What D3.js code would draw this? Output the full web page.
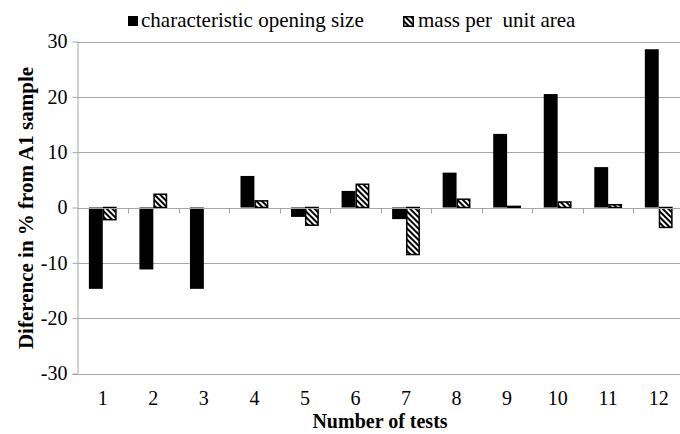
<!DOCTYPE html>
<html>
<head>
<meta charset="utf-8">
<script src="https://cdn.jsdelivr.net/npm/d3@7"></script>
<style>
  body { margin: 0; background: #fff; }
  text { font-family: "Liberation Serif", "Times New Roman", serif; fill: #000; }
</style>
</head>
<body>
<div id="chart"></div>
<script>
//////////////////// data ////////////////////
const tests = ["1", "2", "3", "4", "5", "6", "7", "8", "9", "10", "11", "12"];
const openingSize = [-14.7, -11.2, -14.7, 5.7, -1.7, 3.0, -2.1, 6.3, 13.3, 20.5, 7.3, 28.6];
const massPerArea = [-2.2, 2.4, 0, 1.2, -3.2, 4.2, -8.5, 1.5, 0.2, 1.0, 0.5, -3.6];
const yTicks = [30, 20, 10, 0, -10, -20, -30];
const seriesNames = ["characteristic opening size", "mass per  unit area"];

//////////////////// setup ////////////////////
const W = 680, H = 434;
const plot = { left: 77.5, right: 684, top: 41.5, bottom: 373.5 };
const serif = '"Liberation Serif", "Times New Roman", serif';

const svg = d3.select("#chart")
    .append("svg")
    .attr("width", W)
    .attr("height", H);

// diagonal hatch for the second series
const defs = svg.append("defs");
defs.append("pattern")
    .attr("id", "hatch")
    .attr("patternUnits", "userSpaceOnUse")
    .attr("width", 4)
    .attr("height", 4)
    .attr("patternTransform", "rotate(-45)")
    .call(p => {
        p.append("rect").attr("width", 4).attr("height", 4).attr("fill", "#fff");
        p.append("rect").attr("width", 2).attr("height", 4).attr("fill", "#000");
    });

//x scale: one band per test, bars take ~55% of the step
const x = d3.scaleBand()
    .domain(tests)
    .range([plot.left, plot.right])
    .paddingInner(0.45)
    .paddingOuter(0.225);
const xs = d3.scaleBand()
    .domain(seriesNames)
    .range([0, x.bandwidth()]);

const y = d3.scaleLinear().domain([-30, 30]).range([plot.bottom, plot.top]);

//gridlines
svg.append("g")
    .selectAll("line")
    .data(yTicks.filter(d => d !== 0))
    .join("line")
    .attr("x1", plot.left)
    .attr("x2", W)
    .attr("y1", d => Math.round(y(d)) + 0.5)
    .attr("y2", d => Math.round(y(d)) + 0.5)
    .attr("stroke", "#a6a6a6")
    .attr("stroke-width", 1);

//y axis
const yAxis = svg.append("g")
    .attr("transform", `translate(${plot.left},0)`)
    .call(d3.axisLeft(y).tickValues(yTicks).tickSize(5).tickPadding(5).tickFormat(d => String(d)))
    .attr("font-family", null)
    .attr("font-size", null);
yAxis.select(".domain").attr("stroke", "#a6a6a6").attr("d", `M0.5,${plot.top}V${plot.bottom}`);
yAxis.selectAll(".tick line").attr("stroke", "#a6a6a6");
yAxis.selectAll(".tick text")
    .style("font-family", serif)
    .style("font-size", "20px");

//bars
const rows = tests.map((t, i) => ({ t, vals: [openingSize[i], massPerArea[i]] }));
const groups = svg.append("g")
    .selectAll("g")
    .data(rows)
    .join("g")
    .attr("transform", d => `translate(${x(d.t)},0)`);

groups.selectAll("rect")
    .data(d => d.vals.map((v, j) => ({ v, s: seriesNames[j], j })))
    .join("rect")
    .filter(d => d.v !== 0)
    .attr("x", d => xs(d.s) + (d.j === 1 ? 0.75 : 0))
    .attr("width", d => xs.bandwidth() - (d.j === 1 ? 1.5 : 0))
    .attr("y", d => y(Math.max(0, d.v)))
    .attr("height", d => Math.abs(y(d.v) - y(0)))
    .attr("fill", d => d.j === 0 ? "#000" : "url(#hatch)")
    .attr("stroke", d => d.j === 0 ? "none" : "#000")
    .attr("stroke-width", 1.5);

//zero line with category ticks (drawn on top of bars)
const zeroY = Math.round(y(0)) + 0.5;
svg.append("line")
    .attr("x1", plot.left)
    .attr("x2", W)
    .attr("y1", zeroY)
    .attr("y2", zeroY)
    .attr("stroke", "#a6a6a6");
svg.append("g")
    .selectAll("line")
    .data(tests.slice(1))
    .join("line")
    .attr("x1", d => Math.round(x(d) - x.step() * x.paddingInner() / 2) + 0.5)
    .attr("x2", d => Math.round(x(d) - x.step() * x.paddingInner() / 2) + 0.5)
    .attr("y1", zeroY)
    .attr("y2", zeroY + 5)
    .attr("stroke", "#a6a6a6");

//bottom gridline at -30
svg.append("line")
    .attr("x1", plot.left - 5)
    .attr("x2", W)
    .attr("y1", Math.round(y(-30)) + 0.5)
    .attr("y2", Math.round(y(-30)) + 0.5)
    .attr("stroke", "#a6a6a6");

//category labels
svg.append("g")
    .selectAll("text")
    .data(tests)
    .join("text")
    .attr("x", d => x(d) + x.bandwidth() / 2)
    .attr("y", 405)
    .attr("text-anchor", "middle")
    .style("font-size", "20px")
    .text(d => d);

//axis titles
svg.append("text")
    .attr("x", 380)
    .attr("y", 428)
    .attr("text-anchor", "middle")
    .style("font-size", "20px")
    .style("font-weight", "bold")
    .text("Number of tests");

svg.append("text")
    .attr("transform", "translate(33,208) rotate(-90)")
    .attr("text-anchor", "middle")
    .style("font-size", "21px")
    .style("font-weight", "bold")
    .text("Diference in % from A1 sample");

//legend
const legendX = [128, 403];
const legend = svg.append("g")
    .selectAll("g")
    .data(seriesNames)
    .join("g")
    .attr("transform", (d, i) => `translate(${legendX[i]},16)`);
legend.append("rect")
    .attr("x", (d, i) => i === 1 ? 0.75 : 0)
    .attr("y", (d, i) => i === 1 ? 0.75 : 0)
    .attr("width", (d, i) => i === 1 ? 9.5 : 10)
    .attr("height", (d, i) => i === 1 ? 9.5 : 10)
    .attr("fill", (d, i) => i === 0 ? "#000" : "url(#hatch)")
    .attr("stroke", (d, i) => i === 0 ? "none" : "#000")
    .attr("stroke-width", 1.5);
legend.append("text")
    .attr("x", (d, i) => i === 0 ? 13 : 15)
    .attr("y", 11)
    .style("font-size", "21px")
    .style("white-space", "pre")
    .attr("xml:space", "preserve")
    .text(d => d);
</script>
</body>
</html>
